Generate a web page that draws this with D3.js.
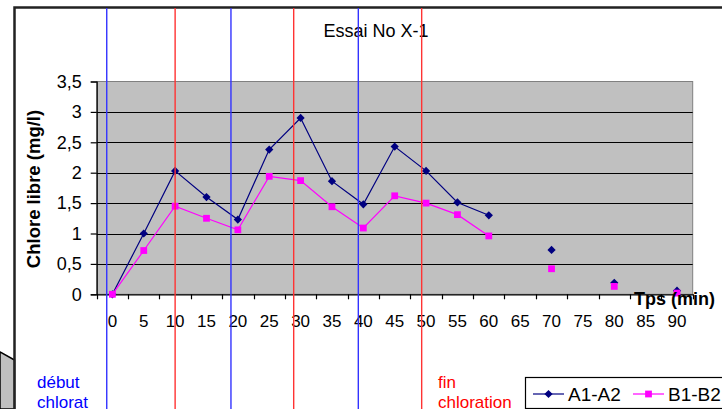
<!DOCTYPE html>
<html>
<head>
<meta charset="utf-8">
<script src="https://cdn.jsdelivr.net/npm/d3@7"></script>
<style>
  body { margin: 0; background: #fff; }
  svg { display: block; font-family: Arial, "Liberation Sans", sans-serif; }
</style>
</head>
<body>
<div id="chart"></div>
<script>
const width = 722;
const height = 409;

// temps (min), une categorie par point
const minutes = [0, 5, 10, 15, 20, 25, 30, 35, 40, 45, 50, 55, 60, 65, 70, 75, 80, 85, 90];
const a1a2 = [0, 1.0, 2.03, 1.6, 1.23, 2.38, 2.9, 1.86, 1.48, 2.43, 2.03, 1.51, 1.3, null, 0.73, null, 0.19, null, 0.06];
const b1b2 = [0, 0.72, 1.45, 1.25, 1.06, 1.94, 1.87, 1.44, 1.09, 1.62, 1.5, 1.31, 0.96, null, 0.42, null, 0.13, null, 0.02];
const yTicks = [0, 0.5, 1, 1.5, 2, 2.5, 3, 3.5];

// traits verticaux (en minutes) : debut / fin de chloration
const debutLines = [-0.9, 18.9, 39.2];
const finLines = [10, 28.9, 49.3];

const plot = { left: 96.7, right: 692.7, top: 81.5, bottom: 294.3 };

let svg = d3.select("#chart").append("svg")
    .attr("width", width)
    .attr("height", height);

let x = d3.scaleBand()
    .domain(minutes)
    .range([plot.left, plot.right]);

// position continue en minutes, calee sur les categories
let xMin = d3.scaleLinear()
    .domain([0, 5])
    .range([x(0) + x.bandwidth() / 2, x(5) + x.bandwidth() / 2]);

let y = d3.scaleLinear()
    .domain([0, 3.5])
    .range([plot.bottom, plot.top]);

// forme grise en bas a gauche
svg.append("path")
    .attr("d", "M0,352 L14.5,360 L14.5,409 L0,409 Z")
    .attr("fill", "#c0c0c0")
    .attr("stroke", "#000")
    .attr("stroke-width", 1.5);

// cadre du graphique
svg.append("path")
    .attr("d", `M14.5,${height} L14.5,7.5 L${width},7.5`)
    .attr("fill", "none")
    .attr("stroke", "#222")
    .attr("stroke-width", 2.5);

// zone de tracé
svg.append("rect")
    .attr("x", plot.left)
    .attr("y", plot.top)
    .attr("width", plot.right - plot.left)
    .attr("height", plot.bottom - plot.top)
    .attr("fill", "#c0c0c0")
    .attr("stroke", "#808080")
    .attr("stroke-width", 1);

// quadrillage
svg.append("g")
    .selectAll("line")
    .data(yTicks.filter(d => d > 0 && d < 3.5))
    .join("line")
    .attr("x1", plot.left)
    .attr("x2", plot.right)
    .attr("y1", d => Math.round(y(d)) + 0.5)
    .attr("y2", d => Math.round(y(d)) + 0.5)
    .attr("stroke", "#000")
    .attr("stroke-width", 1.2);

// axe y
let yAxis = svg.append("g")
    .attr("transform", `translate(${plot.left},0)`)
    .call(d3.axisLeft(y)
        .tickValues(yTicks)
        .tickSize(6)
        .tickPadding(9)
        .tickFormat(d => d3.format("")(d).replace(".", ",")));
yAxis.select(".domain").attr("stroke", "#000").attr("stroke-width", 1.2);
yAxis.selectAll(".tick line").attr("stroke", "#000").attr("stroke-width", 1.2);
yAxis.selectAll("text")
    .attr("fill", "#000")
    .style("font-size", "18px")
    .style("font-family", "Arial, 'Liberation Sans', sans-serif");

// axe x
let xAxis = svg.append("g")
    .attr("transform", `translate(0,${plot.bottom})`)
    .call(d3.axisBottom(x).tickSize(0).tickPadding(21));
xAxis.select(".domain").attr("stroke", "#000").attr("stroke-width", 1.2);
xAxis.selectAll("text")
    .attr("fill", "#000")
    .style("font-size", "17px")
    .style("font-family", "Arial, 'Liberation Sans', sans-serif");

// graduations entre categories
svg.append("g")
    .selectAll("line")
    .data(minutes.concat(["end"]))
    .join("line")
    .attr("x1", (d, i) => Math.round(plot.left + i * x.step()) + 0.5)
    .attr("x2", (d, i) => Math.round(plot.left + i * x.step()) + 0.5)
    .attr("y1", plot.bottom)
    .attr("y2", plot.bottom + 5)
    .attr("stroke", "#000")
    .attr("stroke-width", 1.2);

// titres
svg.append("text")
    .attr("x", 376)
    .attr("y", 37)
    .attr("text-anchor", "middle")
    .style("font-size", "18px")
    .text("Essai No X-1");

svg.append("text")
    .attr("transform", "translate(40,189) rotate(-90)")
    .attr("text-anchor", "middle")
    .style("font-size", "18.5px")
    .style("font-weight", "bold")
    .text("Chlore libre (mg/l)");

// séries
const series = [
    { name: "A1-A2", values: a1a2, color: "#000080", shape: "diamond" },
    { name: "B1-B2", values: b1b2, color: "#ff00ff", shape: "square" }
];

let line = d3.line()
    .defined(d => d.v != null)
    .x(d => x(d.t) + x.bandwidth() / 2)
    .y(d => y(d.v));

function marker(sel, s) {
    if (s.shape === "diamond") {
        sel.attr("d", d3.symbol(d3.symbolSquare, 34)())
            .attr("transform", function() {
                return d3.select(this).attr("transform") + " rotate(45)";
            });
    } else {
        sel.attr("d", d3.symbol(d3.symbolSquare, 46)());
    }
}

series.forEach(s => {
    let pts = minutes.map((t, i) => ({ t: t, v: s.values[i] }));
    let g = svg.append("g");
    g.append("path")
        .datum(pts)
        .attr("d", line)
        .attr("fill", "none")
        .attr("stroke", s.color)
        .attr("stroke-width", 1.2);
    g.selectAll("path.pt")
        .data(pts.filter(d => d.v != null))
        .join("path")
        .attr("class", "pt")
        .attr("fill", s.color)
        .attr("transform", d => `translate(${x(d.t) + x.bandwidth() / 2},${y(d.v)})`)
        .call(marker, s);
});

// titre axe x par-dessus la zone
svg.append("text")
    .attr("x", 634)
    .attr("y", 305)
    .style("font-size", "18px")
    .style("font-weight", "bold")
    .text("Tps (min)");

// légende
let legend = svg.append("g");
legend.append("rect")
    .attr("x", 525.5)
    .attr("y", 377.5)
    .attr("width", 200)
    .attr("height", 31)
    .attr("fill", "#fff")
    .attr("stroke", "#000")
    .attr("stroke-width", 1.2);

const legendX = [533, 633];
series.forEach((s, i) => {
    let lx = legendX[i];
    legend.append("line")
        .attr("x1", lx)
        .attr("x2", lx + 31)
        .attr("y1", 394)
        .attr("y2", 394)
        .attr("stroke", s.color)
        .attr("stroke-width", 1.2);
    legend.append("path")
        .attr("fill", s.color)
        .attr("transform", `translate(${lx + 15.5},394)`)
        .call(marker, s);
    legend.append("text")
        .attr("x", lx + 35)
        .attr("y", 401)
        .style("font-size", "19px")
        .text(s.name);
});

// notes debut / fin
svg.append("g")
    .selectAll("text")
    .data(["début", "chlorat"])
    .join("text")
    .attr("x", 37)
    .attr("y", (d, i) => 388 + i * 20)
    .attr("fill", "#0000ff")
    .style("font-size", "17px")
    .text(d => d);

svg.append("g")
    .selectAll("text")
    .data(["fin", "chloration"])
    .join("text")
    .attr("x", 438)
    .attr("y", (d, i) => 388 + i * 20)
    .attr("fill", "#ff0000")
    .style("font-size", "17px")
    .text(d => d);

// traits verticaux par-dessus tout
svg.append("g")
    .selectAll("line")
    .data(debutLines)
    .join("line")
    .attr("x1", d => xMin(d))
    .attr("x2", d => xMin(d))
    .attr("y1", 8)
    .attr("y2", height)
    .attr("stroke", "#3333ff")
    .attr("stroke-width", 1.4);

svg.append("g")
    .selectAll("line")
    .data(finLines)
    .join("line")
    .attr("x1", d => xMin(d))
    .attr("x2", d => xMin(d))
    .attr("y1", 8)
    .attr("y2", height)
    .attr("stroke", "#ff3333")
    .attr("stroke-width", 1.4);
</script>
</body>
</html>
